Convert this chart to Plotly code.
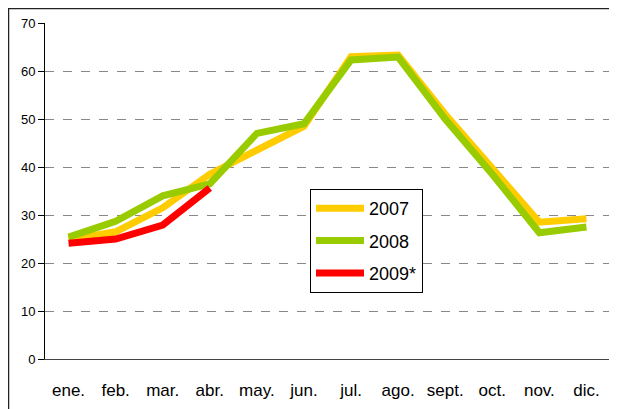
import plotly.graph_objects as go

months = ["ene.", "feb.", "mar.", "abr.", "may.", "jun.", "jul.", "ago.", "sept.", "oct.", "nov.", "dic."]
y2007 = [24.8, 26.5, 31.5, 38.5, 43.5, 48.5, 63.0, 63.3, 51.0, 40.0, 28.5, 29.2]
y2008 = [25.4, 28.7, 34.0, 36.5, 47.0, 49.0, 62.3, 62.9, 50.0, 38.5, 26.3, 27.5]
y2009 = [24.1, 25.0, 27.9, 35.6]
yticks = [0, 10, 20, 30, 40, 50, 60, 70]

FONT = "Liberation Sans Narrow, Arial Narrow, Liberation Sans, Arial, sans-serif"

fig = go.Figure()
for name, ys, col in [("2007", y2007, "#FFCC00"), ("2008", y2008, "#99CC00"), ("2009*", y2009, "#FF0000")]:
    fig.add_trace(go.Scatter(x=months[:len(ys)], y=ys, name=name, mode="lines",
                             legendgroup=name,
                             line=dict(color=col, width=7)))

# page has an 8px body margin; figure occupies page pixels 8..617 x 8..409
OFF = 8
W, H = 609, 401
L, R, T, B = 37, 7, 15, 50
pw, ph = W - L - R, H - T - B

def px(x):
    return (x - OFF - L) / pw
def py(y):
    return (H - B - (y - OFF)) / ph

fig.update_layout(
    width=W, height=H,
    margin=dict(l=L, r=R, t=T, b=B, pad=0, autoexpand=False),
    paper_bgcolor="white", plot_bgcolor="white",
    font=dict(family=FONT, color="black"),
    showlegend=True,
    legend=dict(x=px(310), y=py(189), xanchor="left", yanchor="top",
                bordercolor="black", borderwidth=1, bgcolor="white",
                font=dict(size=18, family=FONT), itemwidth=48,
                tracegroupgap=6),
    xaxis=dict(type="category", range=[-0.5, 11.5], showgrid=False, automargin=False,
               showline=True, linecolor="#444", linewidth=1,
               ticks="", tickfont=dict(size=17, family=FONT), ticklabelstandoff=16),
    yaxis=dict(range=[0, 70], tickvals=yticks, showgrid=True, automargin=False,
               gridcolor="#888", griddash="dash", gridwidth=1,
               showline=True, linecolor="black", linewidth=1,
               ticks="outside", ticklen=6, tickcolor="black",
               tickfont=dict(size=13, family=FONT), zeroline=False),
    shapes=[dict(type="rect", xref="paper", yref="paper",
                 x0=px(8.5), x1=px(611), y0=py(430), y1=py(8.5),
                 line=dict(color="#222", width=1.5), layer="below")],
)

fig.write_html("out.html")
